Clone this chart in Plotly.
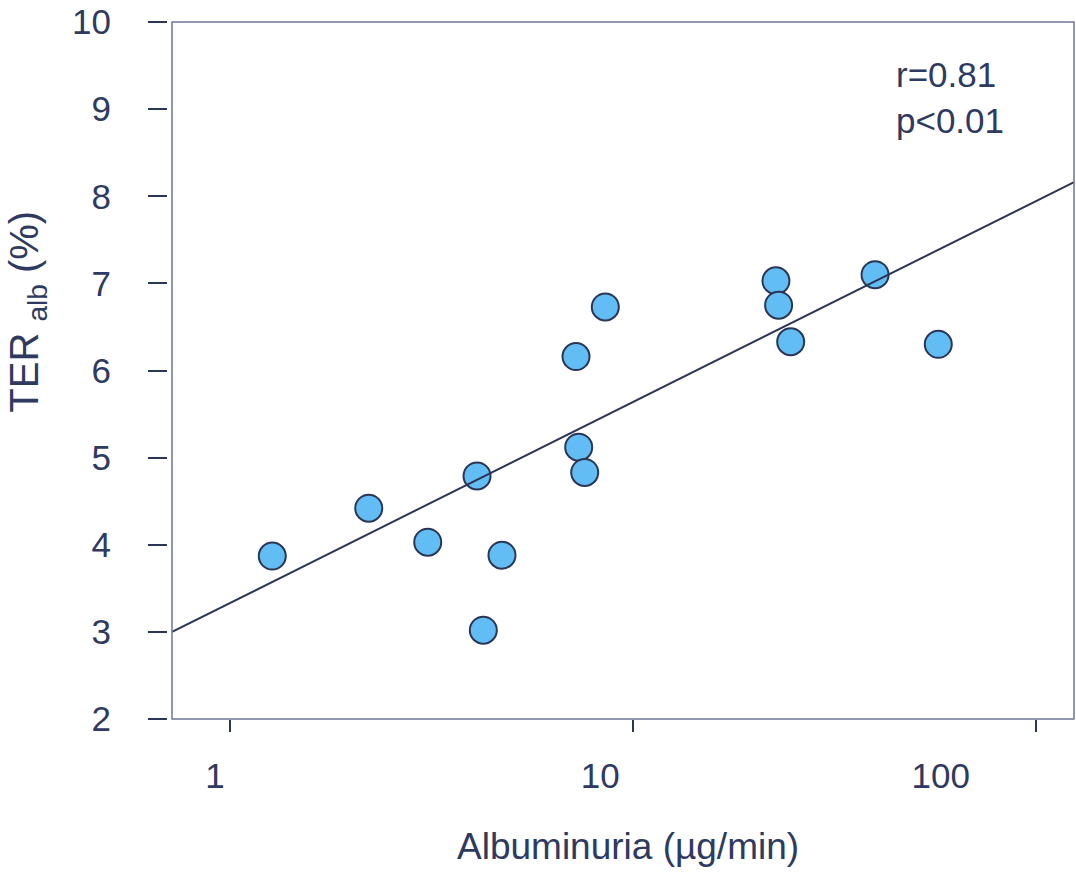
import plotly.graph_objects as go

# Data
albuminuria = [1.276, 2.213, 3.099, 4.106, 4.735, 4.256, 7.225, 8.54, 7.337, 7.593,
               22.62, 22.97, 24.61, 39.84, 57.15]
ter_alb = [3.87, 4.42, 4.03, 4.79, 3.88, 3.02, 6.16, 6.73, 5.12, 4.83,
           7.03, 6.75, 6.33, 7.10, 6.30]

fit_x = [0.720, 124.1]
fit_y = [3.00, 8.163]

x_tick_vals = [1, 10, 100]
x_label_pos = [0.920, 8.30, 57.98]
x_label_text = ["1", "10", "100"]
y_tick_vals = [2, 3, 4, 5, 6, 7, 8, 9, 10]

stats_text = "r=0.81<br>p<0.01"

TXT = "#2e3a5f"
DARK = "#2b3556"
FRAME = "#6f7595"
FONT = "Liberation Sans, Arial, sans-serif"

xrange_log = [-0.1428, 2.0935]

fig = go.Figure()
fig.add_trace(go.Scatter(
    x=fit_x, y=fit_y, mode="lines", xaxis="x2", yaxis="y",
    line=dict(color=DARK, width=2), hoverinfo="skip", showlegend=False))
fig.add_trace(go.Scatter(
    x=albuminuria, y=ter_alb, mode="markers",
    marker=dict(size=27, color="#62bdf4", line=dict(color=DARK, width=2)),
    showlegend=False))

fig.update_layout(
    width=1076, height=872,
    margin=dict(l=160, r=2, t=20, b=153),
    paper_bgcolor="white", plot_bgcolor="white",
    font=dict(family=FONT, color=TXT, size=35),
    xaxis=dict(type="log", range=xrange_log, domain=[0.01313, 1], anchor="y",
               tickvals=x_tick_vals, showticklabels=False,
               ticks="outside", ticklen=12, tickwidth=2, tickcolor=DARK,
               showgrid=False, zeroline=False, showline=False, fixedrange=True),
    xaxis2=dict(type="log", range=xrange_log, domain=[0.01313, 1], anchor="y",
                overlaying="x", side="bottom",
                tickvals=x_label_pos, ticktext=x_label_text, ticks="",
                tickfont=dict(size=35, color=TXT, family=FONT),
                ticklabelstandoff=33,
                showgrid=False, zeroline=False, showline=False, fixedrange=True),
    yaxis=dict(range=[2, 10], anchor="free", position=0.00766,
               tickvals=y_tick_vals, ticks="outside", ticklen=19, tickwidth=2,
               tickcolor=DARK, tickfont=dict(size=35, color=TXT, family=FONT),
               ticklabelstandoff=30,
               showgrid=False, zeroline=False, showline=False, fixedrange=True),
    shapes=[dict(type="rect", xref="x domain", yref="y domain", x0=0, x1=1, y0=0, y1=1,
                 line=dict(color=FRAME, width=1.5), fillcolor="rgba(0,0,0,0)")],
    annotations=[
        dict(text=stats_text, xref="paper", yref="paper", x=0.8033, y=0.955,
             xanchor="left", yanchor="top", showarrow=False, align="left",
             font=dict(size=35, color=TXT, family=FONT)),
        dict(text="Albuminuria (µg/min)", xref="paper", yref="paper",
             x=0.512, y=-0.1836, xanchor="center", yanchor="middle", showarrow=False,
             font=dict(size=37, color=TXT, family=FONT)),
        dict(text="TER <sub>alb</sub> (%)", xref="paper", yref="paper",
             x=-0.145, y=0.585, xanchor="center", yanchor="middle", showarrow=False,
             textangle=-90, font=dict(size=40, color=TXT, family=FONT)),
    ],
)

fig.write_html("out.html")
